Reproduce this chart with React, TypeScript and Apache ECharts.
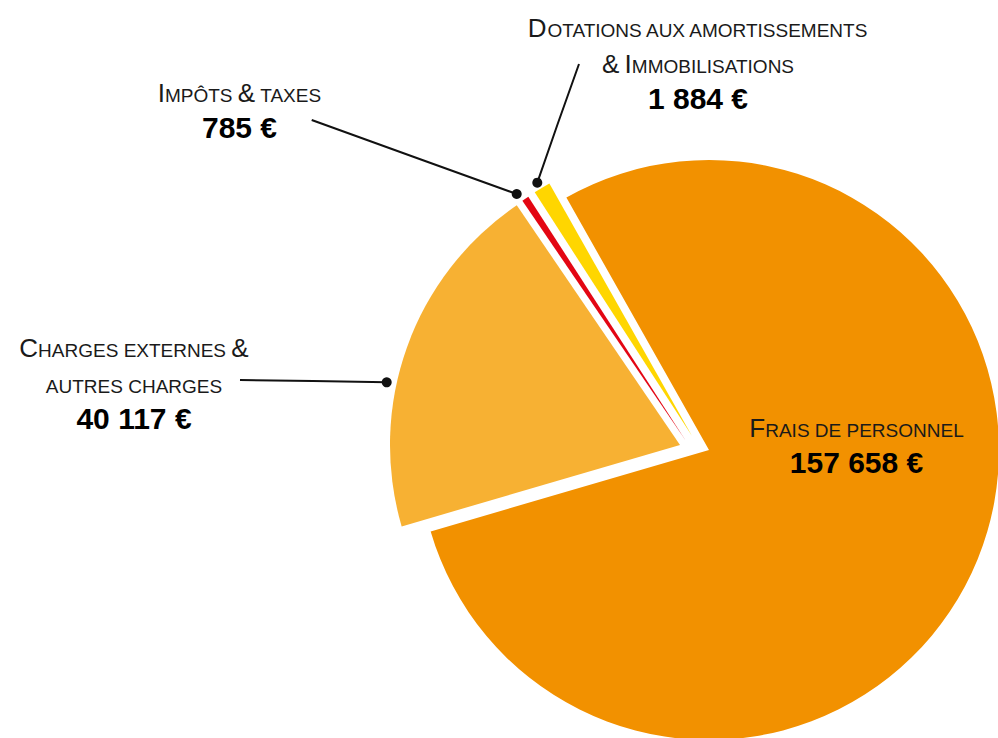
import React, { useEffect, useRef } from "react";
import * as echarts from "echarts";

// ---- data ----
const categories: string[] = [
  "Frais de personnel",
  "Charges externes &\nautres charges",
  "Impôts & taxes",
  "Dotations aux amortissements\n& Immobilisations",
];
const values: number[] = [157658, 40117, 785, 1884];
const colors: string[] = ["#F29100", "#F7B133", "#E30613", "#FFD600"];

// ---- layout (positions only) ----
// each slice is pulled out of the pie: one centre per slice
const SLICE_CENTERS: number[][] = [
  [709, 450],
  [680, 445],
  [685.6, 440.5],
  [692, 436],
];
const RADIUS = 290;
const START_ANGLE = 119.46;

const LABEL_POS = [
  { x: 856.5, y: 404 },
  { x: 134, y: 324 },
  { x: 239.5, y: 69 },
  { x: 698, y: 4 },
];
const LEADERS: (number[][] | null)[] = [
  null,
  [[386.7, 382.3], [313, 381], [240, 380]],
  [[516.7, 194], [414, 157], [311.7, 120]],
  [[537.3, 182.7], [558, 123], [579, 64]],
];

const FONT = "'Liberation Sans', Arial, Helvetica, sans-serif";
const TEXT = "#1a1a1a";

function smallCaps(line: string): string {
  let out = "";
  let cur = "";
  let curStyle = "";
  const flush = () => {
    if (cur) out += `{${curStyle}|${cur}}`;
    cur = "";
  };
  for (const ch of line) {
    const isLower = ch !== ch.toUpperCase();
    const st = isLower || ch === " " ? "s" : "b";
    if (st !== curStyle) {
      flush();
      curStyle = st;
    }
    cur += isLower ? ch.toUpperCase() : ch;
  }
  flush();
  return out;
}

function fmt(v: number): string {
  return String(Math.round(v)).replace(/\B(?=(\d{3})+(?!\d))/g, " ") + " €";
}

export default function App() {
  const ref = useRef<HTMLDivElement>(null);
  useEffect(() => {
    document.body.style.margin = "0";
    if (!ref.current) return;
    const chart = echarts.init(ref.current, undefined, { renderer: "svg" });

    const richStyles = {
      b: { fontSize: 26, lineHeight: 36.6, verticalAlign: "bottom", align: "center", color: TEXT, fontFamily: FONT },
      s: { fontSize: 19, lineHeight: 36.6, verticalAlign: "bottom", align: "center", color: TEXT, fontFamily: FONT, padding: [0, 0, 1, 0] },
      v: { fontSize: 30, fontWeight: "bold", lineHeight: 36.6, verticalAlign: "bottom", align: "center", color: "#000", fontFamily: FONT },
    };

    const series = categories.map((_, k) => ({
      type: "pie",
      name: categories[k],
      silent: true,
      center: SLICE_CENTERS[k],
      radius: RADIUS,
      startAngle: START_ANGLE,
      clockwise: true,
      avoidLabelOverlap: false,
      emphasis: { disabled: true },
      z: 2,
      label: {
        show: true,
        formatter: (p: any) =>
          p.name.split("\n").map(smallCaps).join("\n") + "\n{v|" + fmt(p.value) + "}",
        rich: richStyles,
        align: "center",
      },
      labelLine: { show: true, smooth: false, lineStyle: { color: "#111", width: 2 } },
      labelLayout: (p: any) => {
        const pos = LABEL_POS[p.dataIndex];
        const r: any = { x: pos.x, y: pos.y, align: "center", verticalAlign: "top" };
        const pts = LEADERS[p.dataIndex];
        if (pts) r.labelLinePoints = pts;
        return r;
      },
      data: values.map((v, i) => ({
        name: categories[i],
        value: v,
        itemStyle: { color: i === k ? colors[i] : "transparent", borderWidth: 0 },
        label: { show: i === k },
        labelLine: { show: i === k && LEADERS[i] !== null },
      })),
    }));

    const option: any = {
      animation: false,
      backgroundColor: "#fff",
      series,
      graphic: LEADERS.filter((l) => l).map((l: any) => ({
        type: "circle",
        z: 100,
        shape: { cx: l[0][0], cy: l[0][1], r: 5 },
        style: { fill: "#111" },
      })),
    };
    chart.setOption(option);
    return () => chart.dispose();
  }, []);
  return <div ref={ref} style={{ width: 998, height: 738 }} />;
}
